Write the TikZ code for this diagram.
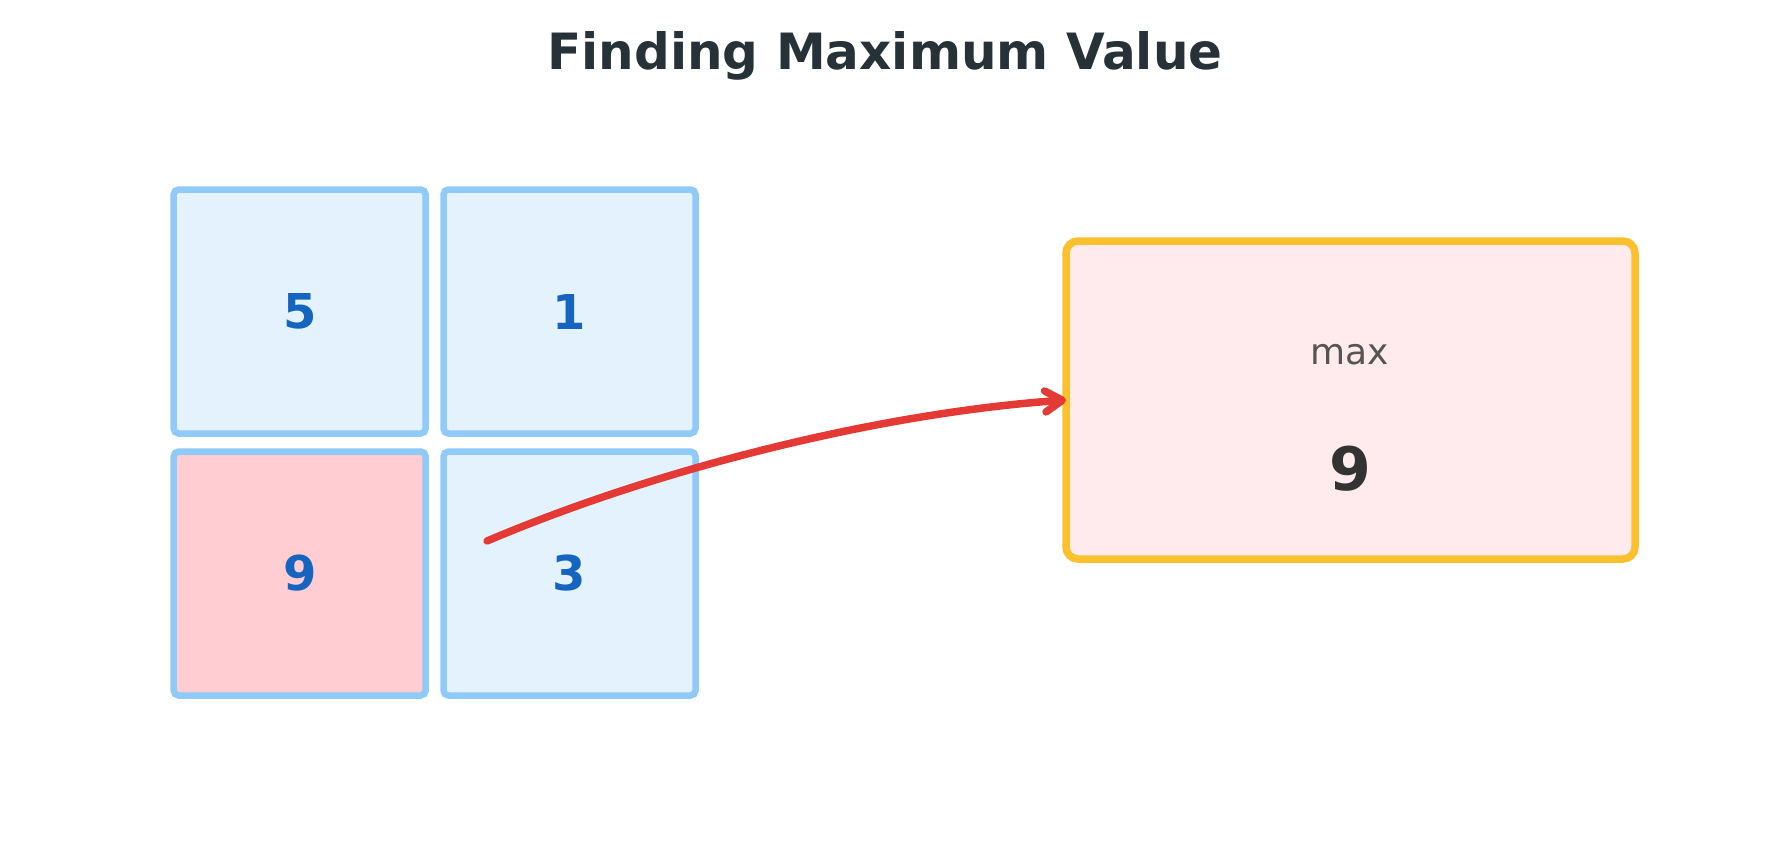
\documentclass[tikz,border=0pt]{standalone}
\usepackage{fontspec}
\setmainfont{DejaVu Sans}
\usetikzlibrary{arrows.meta}
\definecolor{titlec}{HTML}{263238}
\definecolor{cellborder}{HTML}{90CAF9}
\definecolor{cellfill}{HTML}{E3F2FD}
\definecolor{hotfill}{HTML}{FFCDD2}
\definecolor{digitc}{HTML}{1565C0}
\definecolor{maxborder}{HTML}{FBC02D}
\definecolor{maxfill}{HTML}{FFEBEE}
\definecolor{arrowc}{HTML}{E53935}
\definecolor{labelc}{HTML}{555555}
\definecolor{bigc}{HTML}{333333}
\tikzset{
  cell/.style={draw=cellborder, fill=cellfill, line width=6.5pt, rounded corners=5pt,
    minimum width=252pt, minimum height=244pt, inner sep=0pt, outer sep=0pt,
    text=digitc, font=\fontsize{48}{48}\selectfont\bfseries},
  hotcell/.style={cell, fill=hotfill},
  maxbox/.style={draw=maxborder, fill=maxfill, line width=7.5pt, rounded corners=12pt,
    minimum width=569pt, minimum height=318pt, inner sep=0pt, outer sep=0pt},
  pointer/.style={draw=arrowc, line width=7.5pt, line cap=round,
    -{Straight Barb[length=17pt,width=21pt,line width=7.5pt,round]}}
}
\begin{document}
\begin{tikzpicture}[x=1pt,y=1pt]
\useasboundingbox (0,0) rectangle (1770,-865);
\node[text=titlec, font=\fontsize{50}{50}\selectfont\bfseries] (title) at (885,-55.5) {Finding Maximum Value};
\node[cell] (c5) at (299.7,-311.5) {5};
\node[cell] (c1) at (569.5,-311.5) {1};
\node[hotcell] (c9) at (299.7,-573.5) {9};
\node[cell] (c3) at (569.5,-573.5) {3};
\node[maxbox] (mx) at (1350.5,-400) {};
\node[text=labelc, font=\fontsize{36}{36}\selectfont] (mxlabel) at (1350,-355) {max};
\node[text=bigc, font=\fontsize{60}{60}\selectfont\bfseries] (mxval) at (1350,-469) {9};
\coordinate (start) at (487,-541);
\draw[pointer] (start) to[out=23, in=184, looseness=0.8] (mx.west);
\end{tikzpicture}
\end{document}
